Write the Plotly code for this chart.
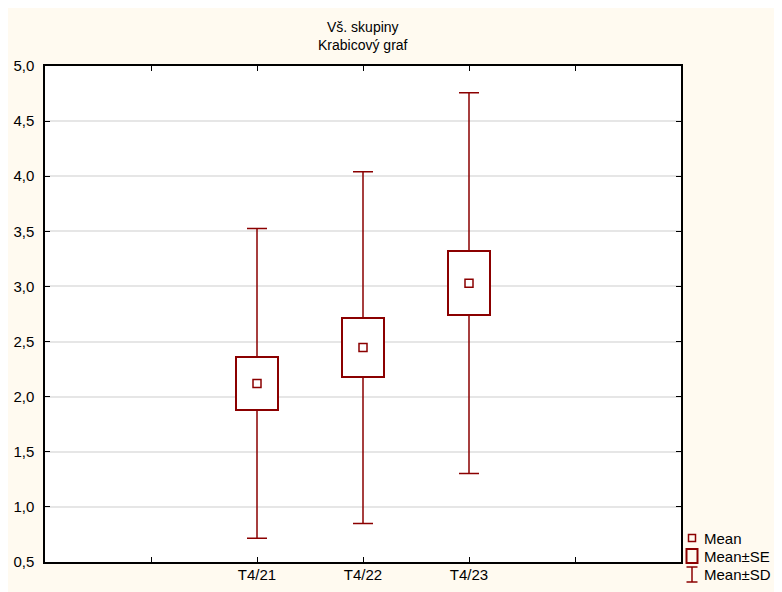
import plotly.graph_objects as go

categories = ["T4/21", "T4/22", "T4/23"]
cat_pos = [1, 2, 3]
means = [2.12, 2.445, 3.03]
se = [0.24, 0.267, 0.29]
sd = [1.405, 1.595, 1.727]

title_lines = ["Vš. skupiny", "Krabicový graf"]
legend_labels = ["Mean", "Mean±SE", "Mean±SD"]
yticks = [0.5, 1.0, 1.5, 2.0, 2.5, 3.0, 3.5, 4.0, 4.5, 5.0]

W, H = 782, 592
OFF = 8  # page body margin
# plot area in screen pixels
L, R, T, B = 45, 681, 66, 562
COL = "#8B0000"
FONT = "Liberation Sans, Arial, sans-serif"


def px(x):
    return (x - L) / (R - L)


def py(y):
    return (B - y) / (B - T)


fig = go.Figure()

# SE boxes
fig.add_trace(go.Bar(
    x=cat_pos,
    y=[2 * s for s in se],
    base=[m - s for m, s in zip(means, se)],
    width=0.39,
    marker=dict(color="white", line=dict(color=COL, width=2)),
    showlegend=False, hoverinfo="skip",
))

# upper whiskers
fig.add_trace(go.Scatter(
    x=cat_pos,
    y=[m + s for m, s in zip(means, se)],
    mode="markers", marker=dict(size=1, opacity=0),
    error_y=dict(type="data", symmetric=False,
                 array=[d - s for d, s in zip(sd, se)],
                 arrayminus=[0] * len(sd),
                 color=COL, thickness=1.5, width=10),
    showlegend=False, hoverinfo="skip",
))
# lower whiskers
fig.add_trace(go.Scatter(
    x=cat_pos,
    y=[m - s for m, s in zip(means, se)],
    mode="markers", marker=dict(size=1, opacity=0),
    error_y=dict(type="data", symmetric=False,
                 array=[0] * len(sd),
                 arrayminus=[d - s for d, s in zip(sd, se)],
                 color=COL, thickness=1.5, width=10),
    showlegend=False, hoverinfo="skip",
))
# mean markers
fig.add_trace(go.Scatter(
    x=cat_pos, y=means, mode="markers",
    marker=dict(symbol="square-open", size=8, color=COL, line=dict(width=1.5, color=COL)),
    showlegend=False,
))

shapes = [
    # legend: small square
    dict(type="rect", xref="paper", yref="paper",
         x0=px(688.5), x1=px(695.5), y0=py(541.5), y1=py(534.5),
         line=dict(color=COL, width=1.5), fillcolor="rgba(0,0,0,0)"),
    # legend: big square
    dict(type="rect", xref="paper", yref="paper",
         x0=px(686.5), x1=px(697.5), y0=py(563), y1=py(549),
         line=dict(color=COL, width=2), fillcolor="rgba(0,0,0,0)"),
    # legend: I-beam
    dict(type="line", xref="paper", yref="paper",
         x0=px(692), x1=px(692), y0=py(582), y1=py(567),
         line=dict(color=COL, width=1.5)),
    dict(type="line", xref="paper", yref="paper",
         x0=px(686.5), x1=px(697.5), y0=py(567), y1=py(567),
         line=dict(color=COL, width=1.5)),
    dict(type="line", xref="paper", yref="paper",
         x0=px(686.5), x1=px(697.5), y0=py(582), y1=py(582),
         line=dict(color=COL, width=1.5)),
]

annotations = [
    dict(text=title_lines[0], xref="paper", yref="paper", x=0.5, y=py(27),
         showarrow=False, xanchor="center", yanchor="middle",
         font=dict(family=FONT, size=14, color="black")),
    dict(text=title_lines[1], xref="paper", yref="paper", x=0.5, y=py(45),
         showarrow=False, xanchor="center", yanchor="middle",
         font=dict(family=FONT, size=14, color="black")),
]
for lbl, yy in zip(legend_labels, [538, 556, 574]):
    annotations.append(dict(text=lbl, xref="paper", yref="paper", x=px(702), y=py(yy),
                            showarrow=False, xanchor="left", yanchor="middle",
                            font=dict(family=FONT, size=15, color="black")))

fig.update_layout(
    width=W, height=H,
    margin=dict(l=L - OFF, r=W - (R - OFF), t=T - OFF, b=H - (B - OFF), pad=0,
                autoexpand=False),
    paper_bgcolor="#FFFAF0",
    plot_bgcolor="white",
    separators=", ",
    font=dict(family=FONT, size=15, color="black"),
    shapes=shapes,
    annotations=annotations,
    showlegend=False,
    bargap=0,
)

fig.update_xaxes(
    range=[-1, 5],
    tickvals=[-1, 0, 1, 2, 3, 4, 5],
    ticktext=["", ""] + categories + ["", ""],
    ticks="inside", ticklen=5, tickcolor="black",
    showline=True, linecolor="black", linewidth=1.5, mirror="ticks",
    showgrid=False, zeroline=False,
    tickfont=dict(family=FONT, size=15, color="black"),
    ticklabelstandoff=-2,
    automargin=False,
    fixedrange=True,
)
fig.update_yaxes(
    range=[0.5, 5.0],
    tickvals=yticks,
    tickformat=".1f",
    ticks="inside", ticklen=5, tickcolor="black",
    showline=True, linecolor="black", linewidth=1.5, mirror="ticks",
    showgrid=True, gridcolor="#e6e6e6", gridwidth=1.5, zeroline=False,
    tickfont=dict(family=FONT, size=15, color="black"),
    ticklabelstandoff=6,
    automargin=False,
    fixedrange=True,
)

fig.write_html("out.html")
